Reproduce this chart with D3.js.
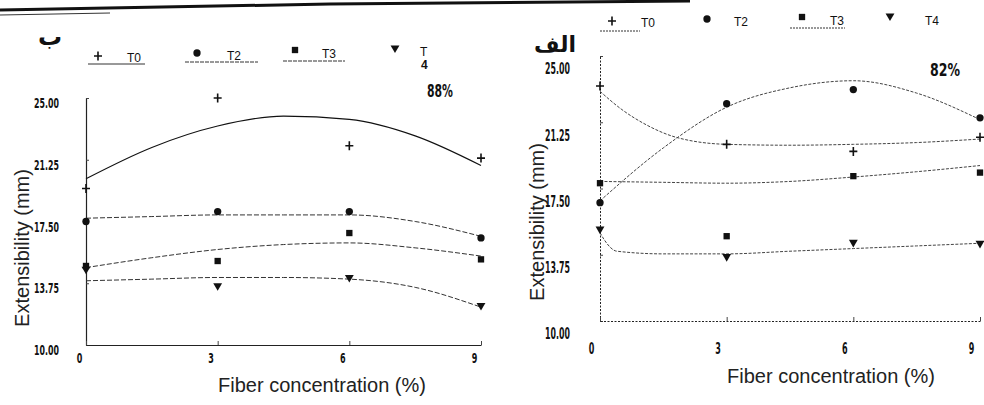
<!DOCTYPE html>
<html><head><meta charset="utf-8">
<script src="https://cdn.jsdelivr.net/npm/d3@7"></script>
<style>body{margin:0;background:#fff} svg{display:block}</style>
</head><body>
<svg id="c" width="984" height="405"></svg>
<script>
// ---------- data ----------
const xTickValues = [0, 3, 6, 9];
const yTickValues = [10.00, 13.75, 17.50, 21.25, 25.00];
const seriesNames = ["T0", "T2", "T3", "T4"];
const fiberX = [0, 3, 6, 9];

// Panel ب (88%)
const bT0 = [19.5, 25.0, 22.1, 21.35];
const bT2 = [17.5, 18.1, 18.1, 16.5];
const bT3 = [14.8, 15.1, 16.8, 15.2];
const bT4 = [14.6, 13.6, 14.1, 12.4];
const bFitX = [0, 1.5, 3, 4.5, 6, 7.5, 9];
const bFitT0 = [20.1, 22.0, 23.3, 23.9, 23.7, 22.7, 20.9];
const bFitT2 = [17.7, 17.8, 17.9, 17.9, 17.9, 17.5, 16.6];
const bFitT3 = [14.7, 15.3, 15.8, 16.1, 16.2, 15.9, 15.4];
const bFitT4 = [13.9, 14.0, 14.1, 14.1, 14.0, 13.5, 12.3];

// Panel الف (82%)
const aT0 = [23.3, 20.0, 19.6, 20.4];
const aT2 = [16.7, 22.3, 23.1, 21.5];
const aT3 = [17.8, 14.8, 18.2, 18.4];
const aT4 = [15.2, 13.65, 14.45, 14.4];
const aFitXT0 = [0, 0.5, 1.1, 1.8, 3, 4.5, 6, 7.5, 9];
const aFitT0 = [23.0, 22.0, 21.1, 20.4, 20.0, 19.95, 20.0, 20.1, 20.3];
const aFitX = [0, 1.5, 3, 4.5, 6, 7.5, 9];
const aFitT2 = [16.8, 19.8, 22.1, 23.2, 23.6, 22.9, 21.4];
const aFitT3 = [17.9, 17.85, 17.8, 17.9, 18.15, 18.45, 18.8];
const aFitXT4 = [0, 0.1, 0.4, 1.5, 3, 4.5, 6, 7.5, 9];
const aFitT4 = [15.0, 14.6, 13.95, 13.8, 13.8, 13.95, 14.1, 14.25, 14.4];

// ---------- drawing ----------
const svg = d3.select("#c");
const NARROW = "'DejaVu Sans Condensed','DejaVu Sans',sans-serif";
const SANS = "'Liberation Sans',Arial,sans-serif";

function squeeze(sel, perDigit) {
  sel.each(function () {
    const t = this.textContent;
    const dots = (t.match(/\./g) || []).length;
    const w = (t.length - dots) * perDigit + dots * 2.5;
    d3.select(this).attr("textLength", w).attr("lengthAdjust", "spacingAndGlyphs");
  });
}

// scan border line at top
svg.append("path").attr("d", "M0,10 L330,4 L690,1").attr("stroke", "#111").attr("stroke-width", 3).attr("fill", "none");
svg.append("path").attr("d", "M0,15 L110,13").attr("stroke", "#333").attr("stroke-width", 1).attr("fill", "none");

const markerPath = {
  T0: "M-4,0H4M0,-4.5V4.5",
  T2: d3.symbol(d3.symbolCircle, 42)(),
  T3: d3.symbol(d3.symbolSquare, 40)(),
  T4: d3.symbol(d3.symbolTriangle, 34)()
};
function drawMarker(g, name, px, py) {
  const p = g.append("path").attr("d", markerPath[name])
    .attr("transform", `translate(${px},${py})` + (name === "T4" ? " rotate(180)" : ""));
  if (name === "T0") p.attr("stroke", "#111").attr("stroke-width", 1.6).attr("fill", "none");
  else p.attr("fill", "#111");
}

function panel(cfg) {
  const g = svg.append("g");
  const x = d3.scaleLinear().domain([0, 9]).range(cfg.xRange);
  const y = d3.scaleLinear().domain([10, 25]).range(cfg.yRange);

  // y axis
  const ya = g.append("g").attr("transform", `translate(${cfg.xRange[0]},0)`)
    .call(d3.axisLeft(y).tickValues(yTickValues).tickSize(-3).tickSizeOuter(0)
      .tickPadding(cfg.yPad).tickFormat(d3.format(".2f")));
  ya.select(".domain").attr("stroke", "#222").attr("stroke-width", cfg.axisW).attr("stroke-dasharray", cfg.axisDash);
  ya.selectAll(".tick line").attr("stroke", "#444");
  ya.selectAll(".tick text").attr("font-family", NARROW).attr("font-weight", "bold")
    .attr("font-size", cfg.tickFont).attr("fill", "#111").attr("transform", `translate(0,${cfg.yLabelShift})`)
    .call(squeeze, cfg.digitW);

  // x axis
  const xa = g.append("g").attr("transform", `translate(0,${cfg.yRange[0]})`)
    .call(d3.axisBottom(x).tickValues(xTickValues).tickSize(-4).tickSizeOuter(0)
      .tickPadding(cfg.xPad).tickFormat(d3.format("d")));
  xa.select(".domain").attr("stroke", "#222").attr("stroke-width", cfg.axisW).attr("stroke-dasharray", cfg.axisDash);
  xa.selectAll(".tick line").attr("stroke", "#444");
  xa.selectAll(".tick text").attr("font-family", NARROW).attr("font-weight", "bold")
    .attr("font-size", cfg.tickFont).attr("fill", "#111").attr("transform", `translate(${cfg.xLabelShift},0)`)
    .call(squeeze, cfg.digitW);

  // fitted curves
  const line = d3.line().x(d => x(d[0])).y(d => y(d[1])).curve(d3.curveMonotoneX);
  cfg.series.forEach(s => {
    g.append("path").datum(s.fitX.map((v, i) => [v, s.fit[i]]))
      .attr("d", line).attr("fill", "none")
      .attr("stroke", s.color).attr("stroke-width", s.width)
      .attr("stroke-dasharray", s.dash);
  });
  // points
  cfg.series.forEach(s => {
    fiberX.forEach((fx, i) => drawMarker(g, s.name, x(fx), y(s.values[i])));
  });

  // legend
  cfg.legend.forEach((L, i) => {
    const name = seriesNames[i];
    drawMarker(g, name, L.mx, L.my);
    if (L.split) {
      g.append("text").attr("x", L.tx).attr("y", L.ty).text(name[0])
        .attr("font-family", SANS).attr("font-size", cfg.legFont).attr("fill", "#111");
      g.append("text").attr("x", L.tx + 1).attr("y", L.ty + 13).text(name[1])
        .attr("font-family", SANS).attr("font-size", cfg.legFont).attr("font-weight", "bold").attr("fill", "#111");
    } else {
      g.append("text").attr("x", L.tx).attr("y", L.ty).text(name)
        .attr("font-family", SANS).attr("font-size", cfg.legFont).attr("fill", "#111");
    }
    if (L.u) {
      g.append("line").attr("x1", L.u[0]).attr("x2", L.u[1]).attr("y1", L.u[2]).attr("y2", L.u[2])
        .attr("stroke", "#333").attr("stroke-width", 1).attr("stroke-dasharray", L.ud || null);
    }
  });

  // percent label
  g.append("text").attr("x", cfg.pct[0]).attr("y", cfg.pct[1]).text(cfg.pctText)
    .attr("font-family", NARROW).attr("font-weight", "bold").attr("font-size", 17).attr("fill", "#111")
    .attr("textLength", cfg.pctW).attr("lengthAdjust", "spacingAndGlyphs");
  // panel letter
  g.append("text").attr("x", cfg.letter[0]).attr("y", cfg.letter[1]).text(cfg.letterText)
    .attr("font-family", "'DejaVu Sans',sans-serif").attr("font-weight", "bold")
    .attr("font-size", cfg.letterSize).attr("text-anchor", "middle").attr("fill", "#111");
  // axis titles
  g.append("text").attr("transform", `translate(${cfg.yTitle[0]},${cfg.yTitle[1]}) rotate(-90)`)
    .attr("text-anchor", "middle").text("Extensibility (mm)")
    .attr("font-family", SANS).attr("font-size", 20).attr("fill", "#222");
  g.append("text").attr("x", cfg.xTitle[0]).attr("y", cfg.xTitle[1])
    .attr("text-anchor", "middle").text("Fiber concentration (%)")
    .attr("font-family", SANS).attr("font-size", 20).attr("fill", "#222");
}

// Left panel: ب
panel({
  xRange: [86, 481], yRange: [345, 98], yPad: 27, xPad: 8, yLabelShift: 5, xLabelShift: -7,
  tickFont: 14.5, digitW: 5.6, axisW: 1.2, axisDash: null, legFont: 12,
  series: [
    { name: "T0", values: bT0, fitX: bFitX, fit: bFitT0, color: "#111", width: 1.1, dash: null },
    { name: "T2", values: bT2, fitX: bFitX, fit: bFitT2, color: "#333", width: 1, dash: "5,2" },
    { name: "T3", values: bT3, fitX: bFitX, fit: bFitT3, color: "#333", width: 1, dash: "5,2" },
    { name: "T4", values: bT4, fitX: bFitX, fit: bFitT4, color: "#333", width: 1, dash: "5,2" }
  ],
  legend: [
    { mx: 98, my: 56, tx: 127, ty: 62, u: [88, 145, 64], ud: null },
    { mx: 197, my: 53, tx: 227, ty: 60, u: [185, 258, 62], ud: "4,1" },
    { mx: 295, my: 50, tx: 322, ty: 58, u: [283, 345, 61], ud: "4,1" },
    { mx: 395, my: 48, tx: 420, ty: 56, split: true }
  ],
  pct: [427, 97], pctText: "88%", pctW: 26,
  letter: [50, 45], letterText: "ب", letterSize: 24,
  yTitle: [29, 248], xTitle: [322, 392]
});

// Right panel: الف
panel({
  xRange: [600, 980], yRange: [321, 56], yPad: 30, xPad: 22, yLabelShift: 13, xLabelShift: -9,
  tickFont: 15.5, digitW: 5.6, axisW: 1, axisDash: "2,1.5", legFont: 12,
  series: [
    { name: "T0", values: aT0, fitX: aFitXT0, fit: aFitT0, color: "#444", width: 1, dash: "3,1.5" },
    { name: "T2", values: aT2, fitX: aFitX, fit: aFitT2, color: "#444", width: 1, dash: "3,1.5" },
    { name: "T3", values: aT3, fitX: aFitX, fit: aFitT3, color: "#444", width: 1, dash: "3,1.5" },
    { name: "T4", values: aT4, fitX: aFitXT4, fit: aFitT4, color: "#444", width: 1, dash: "3,1.5" }
  ],
  legend: [
    { mx: 612, my: 21, tx: 641, ty: 27, u: [600, 640, 31], ud: "2,1" },
    { mx: 707, my: 19, tx: 734, ty: 26 },
    { mx: 802, my: 17, tx: 830, ty: 25, u: [790, 845, 28], ud: "2,1" },
    { mx: 890, my: 16, tx: 925, ty: 25 }
  ],
  pct: [930, 76], pctText: "82%", pctW: 30,
  letter: [555, 52], letterText: "الف", letterSize: 22,
  yTitle: [544, 222], xTitle: [831, 383]
});
</script>
</body></html>
